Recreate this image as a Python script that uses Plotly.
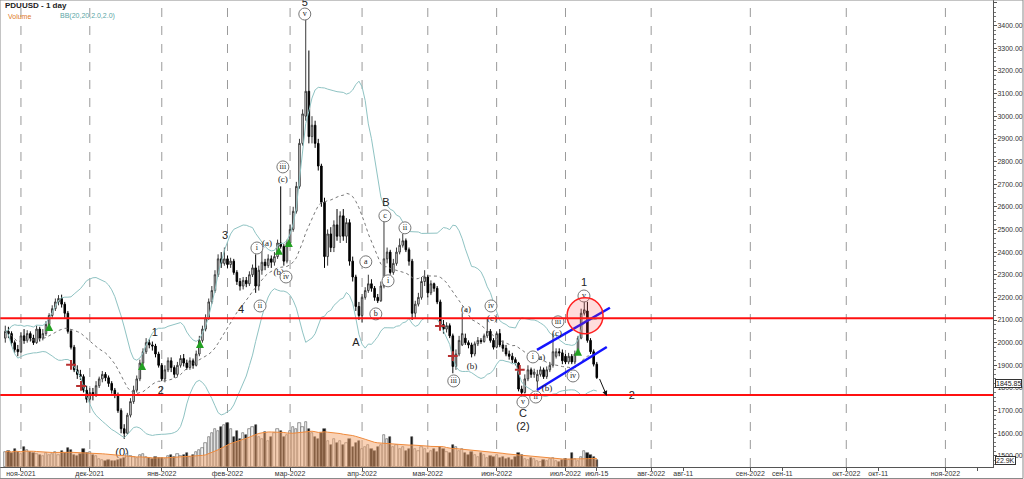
import pandas as pd
import plotly.graph_objects as go

# ---------------- data ----------------
dates = pd.bdate_range("2021-10-25", "2022-07-15")

opens = [2020,2050,2040,2000,1970,1960,2030,2010,2040,2020,
         2000,2060,2020,2040,2080,2120,2150,2180,2195,2170,
         2130,2050,1980,1880,1860,1850,1790,1750,1780,1770,
         1810,1840,1860,1845,1820,1790,1770,1700,1620,1600,
         1680,1740,1790,1840,1910,1960,2000,1990,1985,1950,
         1900,1840,1880,1920,1890,1860,1900,1930,1910,1890,
         1920,1900,1950,2010,2060,2110,2180,2230,2300,2370,
         2350,2370,2345,2360,2310,2270,2250,2275,2260,2300,
         2330,2250,2320,2355,2340,2370,2355,2380,2440,2425,
         2360,2440,2500,2580,2690,2880,3000,3110,2910,2960,
         2880,2780,2620,2380,2480,2420,2520,2470,2560,2470,
         2530,2360,2290,2160,2120,2200,2230,2260,2240,2200,
         2185,2250,2370,2400,2310,2350,2400,2430,2450,2410,
         2360,2130,2170,2200,2270,2290,2220,2260,2240,2180,
         2080,2060,2075,2030,1895,1950,1990,2020,2000,1990,
         1950,1995,2010,2005,2030,2050,2010,1980,2040,1990,
         1975,1950,1940,1925,1910,1795,1780,1840,1880,1860,
         1830,1860,1880,1850,1880,1900,1940,1960,1955,1940,
         1915,1940,1915,1960,2020,2130,2140,2010,1960,1905]
closes = [2050,2040,2000,1970,1960,2030,2010,2040,2020,2000,
          2060,2020,2040,2080,2120,2150,2180,2195,2170,2130,
          2050,1980,1880,1860,1850,1790,1750,1780,1770,1810,
          1840,1860,1845,1820,1790,1770,1700,1620,1600,1680,
          1740,1790,1840,1910,1960,2000,1990,1985,1950,1900,
          1840,1880,1920,1890,1860,1900,1930,1910,1890,1920,
          1900,1950,2010,2060,2110,2180,2230,2300,2370,2350,
          2370,2345,2360,2310,2270,2250,2275,2260,2300,2330,
          2250,2320,2355,2340,2370,2355,2380,2440,2425,2360,
          2440,2500,2580,2690,2880,3010,3110,2910,2960,2880,
          2780,2620,2380,2480,2420,2520,2470,2560,2470,2530,
          2360,2290,2160,2120,2200,2230,2260,2240,2200,2185,
          2250,2370,2400,2310,2350,2400,2430,2450,2410,2360,
          2130,2170,2200,2270,2290,2220,2260,2240,2180,2080,
          2060,2075,2030,1895,1950,2010,2040,2000,1990,1950,
          1995,2010,2005,2030,2050,2010,1980,2040,1990,1975,
          1950,1940,1925,1910,1795,1780,1840,1880,1860,1870,
          1860,1880,1850,1880,1900,1960,1960,1955,1920,1915,
          1940,1915,1950,2020,2130,2145,2010,1960,1905,1845.85]
highs = [2075,2070,2050,2010,1990,2045,2060,2055,2050,2035,
         2075,2070,2060,2095,2130,2165,2195,2210,2212,2180,
         2140,2060,1990,1900,1880,1860,1810,1800,1800,1830,
         1850,1875,1870,1855,1830,1800,1780,1710,1640,1690,
         1755,1810,1855,1925,1975,2020,2015,2005,1995,1960,
         1910,1900,1935,1935,1900,1915,1945,1950,1925,1935,
         1930,1965,2030,2075,2125,2195,2250,2320,2390,2400,
         2420,2385,2375,2370,2320,2285,2290,2290,2315,2345,
         2390,2340,2420,2370,2390,2385,2400,2455,2690,2435,
         2455,2520,2600,2710,2900,3030,3430,3290,3000,2980,
         2900,2790,2640,2500,2510,2540,2590,2580,2590,2550,
         2545,2380,2300,2180,2215,2245,2300,2280,2250,2215,
         2270,2550,2420,2410,2370,2420,2460,2480,2460,2420,
         2370,2185,2220,2290,2320,2300,2275,2265,2250,2190,
         2100,2090,2085,2040,1970,2030,2130,2040,2010,2000,
         2005,2025,2020,2040,2110,2060,2020,2050,2060,2010,
         1990,1965,1955,1935,1915,1810,1860,1900,1890,1885,
         1880,1895,1890,1895,1915,2040,1975,1975,1970,1950,
         1955,1950,1965,2030,2150,2190,2180,2020,1970,1915]
lows = [2000,2020,1985,1955,1940,1955,1995,2000,2005,1990,
        1995,2005,2010,2030,2070,2110,2140,2165,2155,2110,
        2040,1970,1870,1840,1835,1780,1735,1730,1745,1760,
        1800,1825,1830,1805,1775,1755,1690,1600,1575,1595,
        1670,1730,1780,1830,1900,1950,1975,1965,1935,1890,
        1830,1825,1870,1870,1845,1850,1890,1895,1880,1880,
        1885,1895,1940,2000,2050,2100,2170,2220,2290,2330,
        2340,2330,2330,2300,2255,2230,2235,2245,2250,2290,
        2220,2230,2300,2320,2330,2330,2340,2370,2415,2340,
        2350,2430,2490,2570,2680,2870,2980,2880,2880,2860,
        2760,2600,2330,2340,2400,2400,2450,2440,2450,2440,
        2340,2270,2140,2100,2090,2190,2220,2225,2185,2175,
        2180,2240,2350,2300,2300,2340,2390,2420,2400,2340,
        2100,2110,2160,2190,2250,2200,2210,2225,2170,2070,
        2040,2045,2020,1865,1880,1940,1985,1990,1975,1935,
        1940,1985,1995,2000,2020,2000,1970,1975,1980,1960,
        1940,1925,1910,1900,1785,1765,1775,1830,1845,1845,
        1790,1850,1840,1840,1870,1890,1930,1940,1905,1905,
        1905,1905,1905,1955,2015,2120,2000,1950,1895,1840]
volumes = [50,53,46,59,50,43,66,56,50,46,
           43,40,36,46,40,43,50,40,53,46,
           63,56,40,36,43,59,46,50,40,36,
           26,23,20,23,20,20,23,26,30,43,
           36,33,30,40,43,33,30,26,33,30,
           30,26,36,40,33,43,36,40,46,33,
           40,50,56,63,79,99,112,125,119,132,
           139,145,125,99,119,92,112,106,125,132,
           139,99,92,115,86,99,112,125,119,99,
           106,119,132,125,145,132,149,125,112,99,
           92,112,125,86,73,92,79,86,73,79,
           92,66,79,86,59,66,73,59,53,66,
           73,106,92,99,66,73,59,66,53,59,
           99,59,53,66,59,46,53,59,50,66,
           59,50,46,73,66,53,59,46,40,50,
           40,33,46,40,30,36,33,40,30,33,
           26,30,23,33,46,40,26,23,30,26,
           20,16,23,20,26,30,20,16,23,26,
           23,46,26,20,33,53,46,40,33,22.9]

resistance_level = 2108
support_level = 1769

tick_dates = ["2021-11-01","2021-12-01","2022-01-01","2022-02-01","2022-03-01",
              "2022-04-01","2022-05-01","2022-06-01","2022-07-01","2022-07-15",
              "2022-08-01","2022-08-11","2022-09-01","2022-09-11","2022-10-01",
              "2022-10-11","2022-11-01","2022-11-11"]
tick_texts = ["ноя-2021","дек-2021","янв-2022","фев-2022","мар-2022",
              "апр-2022","мая-2022","июн-2022","июл-2022","июл-15",
              "авг-2022","авг-11","сен-2022","сен-11","окт-2022",
              "окт-11","ноя-2022",""]
month_dates = ["2021-11-01","2021-12-01","2022-01-01","2022-02-01","2022-03-01",
               "2022-04-01","2022-05-01","2022-06-01","2022-07-01","2022-08-01",
               "2022-09-01","2022-10-01","2022-11-01"]

# wave labels: (bar position, price, text)
big_labels = [(95.7,3500,"5"),(70.2,2471,"3"),(75.3,2145,"4"),(47.8,2043,"1"),
              (49.7,1787,"2"),(37.3,1513,"(0)"),(112,1999,"A"),(121.6,2617,"B"),
              (165.4,1685,"C"),(165.4,1628,"(2)"),(184.9,2264,"1"),(200.2,1765,"2")]
paren_labels = [(88.7,2719,"(c)"),(83.6,2436,"(a)"),(87.4,2308,"(b)"),
                (147.2,2145,"(a)"),(149.1,1893,"(b)"),(155.5,2105,"(c)"),
                (171.4,1933,"a)"),(173.1,1796,"(b)"),(176.3,2039,"(c)")]
circled_labels = [(95.7,3451,"v"),(88.7,2776,"iii"),(80.4,2418,"i"),(89.7,2290,"iv"),
                  (81.4,2162,"ii"),(121.3,2560,"c"),(115.2,2357,"a"),(118.4,2127,"b"),
                  (122.3,2273,"i"),(127.7,2507,"ii"),(143.3,1831,"iii"),(155.2,2162,"iv"),
                  (165.4,1738,"v"),(168.6,1937,"i"),(169.5,1760,"ii"),(176.6,2092,"iii"),
                  (181.4,1853,"iv"),(184.9,2206,"v")]
buy_signals = [(14.0,2087),(43.7,1915),(62.2,2012),(87.4,2423),(90.6,2458),(183,1977)]
sell_signals = [(21.0,1902),(24.2,1809),(138.9,2074),(143.0,1941),(164.4,1880)]
channel_upper = [(169.9,1968),(193.2,2154)]
channel_lower = [(169.9,1791),(192.2,1981)]

# ---------------- derived ----------------
n = len(dates)
idx = list(range(n))
cs = pd.Series(closes)
mid = cs.rolling(20, min_periods=1).mean()
sd = cs.rolling(20, min_periods=1).std(ddof=0)
upper = mid + 2 * sd
lower = mid - 2 * sd
vol_ma = pd.Series(volumes).rolling(20, min_periods=1).mean()

FUTURE_BARS_PER_DAY = 1.022


def xpos(d):
    d = pd.Timestamp(d)
    if d <= dates[-1]:
        return int(dates.searchsorted(d))
    return (n - 1) + (d - dates[-1]).days * FUTURE_BARS_PER_DAY


tickvals = [xpos(d) for d in tick_dates]
grid_x = [xpos(d) for d in month_dates]

FONT = "Liberation Sans, Arial, sans-serif"
SERIF = "Liberation Serif, Times New Roman, serif"

fig = go.Figure()

# volume bars
vol_colors = ["#111111" if c < o else "#f4f4f4" for o, c in zip(opens, closes)]
fig.add_trace(go.Bar(x=idx, y=volumes, yaxis="y2", width=0.72,
                     marker=dict(color=vol_colors, line=dict(color="#555555", width=0.6)),
                     hoverinfo="skip"))
fig.add_trace(go.Scatter(x=idx, y=vol_ma, yaxis="y2", mode="lines",
                         line=dict(color="#ef8a3c", width=1),
                         fill="tozeroy", fillcolor="rgba(244,165,110,0.5)",
                         hoverinfo="skip"))

# candles
fig.add_trace(go.Candlestick(x=idx, open=opens, high=highs, low=lows, close=closes,
                             increasing=dict(line=dict(color="#3a3a3a", width=1), fillcolor="#ffffff"),
                             decreasing=dict(line=dict(color="#000000", width=1), fillcolor="#000000"),
                             whiskerwidth=0, hoverinfo="skip"))

# Bollinger bands
fig.add_trace(go.Scatter(x=idx, y=upper, mode="lines", line=dict(color="#8fc3c3", width=1), hoverinfo="skip"))
fig.add_trace(go.Scatter(x=idx, y=lower, mode="lines", line=dict(color="#8fc3c3", width=1), hoverinfo="skip"))
fig.add_trace(go.Scatter(x=idx, y=mid, mode="lines", line=dict(color="#777777", width=1, dash="dot"), hoverinfo="skip"))

# signals
fig.add_trace(go.Scatter(x=[p[0] for p in buy_signals], y=[p[1] for p in buy_signals], mode="markers",
                         marker=dict(symbol="arrow-up", size=8, color="#22a022"), hoverinfo="skip"))
fig.add_trace(go.Scatter(x=[p[0] for p in sell_signals], y=[p[1] for p in sell_signals], mode="markers",
                         marker=dict(symbol="cross-thin", size=7, line=dict(color="#b83030", width=2)),
                         hoverinfo="skip"))

# channel lines
for ch in (channel_upper, channel_lower):
    fig.add_trace(go.Scatter(x=[p[0] for p in ch], y=[p[1] for p in ch], mode="lines",
                             line=dict(color="#1414ff", width=2.5), hoverinfo="skip"))

# labels
fig.add_trace(go.Scatter(x=[l[0] for l in big_labels], y=[l[1] for l in big_labels], text=[l[2] for l in big_labels],
                         mode="text", textposition="middle center",
                         textfont=dict(family=FONT, size=11, color="#222222"), hoverinfo="skip"))
fig.add_trace(go.Scatter(x=[l[0] for l in paren_labels], y=[l[1] for l in paren_labels], text=[l[2] for l in paren_labels],
                         mode="text", textposition="middle center",
                         textfont=dict(family=SERIF, size=9, color="#222222"), hoverinfo="skip"))
fig.add_trace(go.Scatter(x=[l[0] for l in circled_labels], y=[l[1] for l in circled_labels], text=[l[2] for l in circled_labels],
                         mode="markers+text", textposition="middle center",
                         marker=dict(symbol="circle", size=12, color="white", line=dict(color="#777777", width=1)),
                         textfont=dict(family=SERIF, size=8, color="#222222"), hoverinfo="skip"))

shapes = []
for gx in grid_x:
    shapes.append(dict(type="line", xref="x", yref="paper", x0=gx, x1=gx, y0=0, y1=1,
                       line=dict(color="#9a9a9a", width=1, dash="dash"), layer="below"))
for lvl in (resistance_level, support_level):
    shapes.append(dict(type="line", xref="paper", yref="y", x0=0, x1=1, y0=lvl, y1=lvl,
                       line=dict(color="#ff1010", width=2)))
shapes.append(dict(type="circle", xref="x", yref="y", x0=179.5, x1=191.0, y0=2039, y1=2198,
                   fillcolor="rgba(255,60,60,0.18)", line=dict(color="#ff2020", width=1.5)))
shapes.append(dict(type="rect", xref="paper", yref="paper", x0=0, x1=1023/993, y0=-11.5/467, y1=1,
                   line=dict(color="#8a8a8a", width=1), fillcolor="rgba(0,0,0,0)"))

annotations = [
    dict(x=192.2, y=1765, ax=189.7, ay=1846, xref="x", yref="y", axref="x", ayref="y",
         showarrow=True, arrowhead=2, arrowsize=1, arrowwidth=1, arrowcolor="#111111", text=""),
    dict(x=3/993, y=1 - 6/467, xref="paper", yref="paper", xanchor="left", yanchor="middle",
         showarrow=False, text="<b>PDUUSD - 1 day</b>", font=dict(family=FONT, size=8, color="#222222")),
    dict(x=6/993, y=1 - 16/467, xref="paper", yref="paper", xanchor="left", yanchor="middle",
         showarrow=False, text="Volume", font=dict(family=FONT, size=7, color="#e07a28")),
    dict(x=58/993, y=1 - 16/467, xref="paper", yref="paper", xanchor="left", yanchor="middle",
         showarrow=False, text="BB(20,20,2.0,2.0)", font=dict(family=FONT, size=7, color="#5aa5a5")),
    dict(x=1, y=closes[-1], xref="paper", yref="y", xanchor="left", yanchor="middle", yshift=-6, xshift=2,
         showarrow=False, text=f"{closes[-1]:.2f}", bgcolor="white", bordercolor="#333333", borderwidth=1,
         borderpad=0, font=dict(family=FONT, size=7, color="#222222")),
    dict(x=1, y=volumes[-1], xref="paper", yref="y2", xanchor="left", yanchor="middle", xshift=2,
         showarrow=False, text=f"{volumes[-1]:.1f}K", bgcolor="white", bordercolor="#333333", borderwidth=1,
         borderpad=0, font=dict(family=FONT, size=7, color="#222222")),
]

fig.update_layout(
    width=1024, height=479,
    margin=dict(l=0, r=31, t=0, b=12, pad=0),
    paper_bgcolor="white", plot_bgcolor="white",
    showlegend=False,
    bargap=0,
    shapes=shapes, annotations=annotations,
    xaxis=dict(range=[-1.69, 315.6], tickmode="array", tickvals=tickvals, ticktext=tick_texts,
               showgrid=False, zeroline=False, showline=True, linecolor="#555555", linewidth=1,
               ticks="outside", ticklen=3, tickcolor="#555555", automargin=False,
               ticklabelstandoff=-3,
               tickfont=dict(family=FONT, size=7, color="#333333"),
               rangeslider=dict(visible=False), fixedrange=True),
    yaxis=dict(range=[1451, 3513], side="right", tickmode="array",
               tickvals=list(range(1500, 3501, 100)), tickformat=".2f",
               showgrid=False, zeroline=False, showline=True, linecolor="#555555", linewidth=1,
               ticks="outside", ticklen=3, tickcolor="#555555", automargin=False,
               ticklabelstandoff=-1,
               minor=dict(dtick=20, ticks="outside", ticklen=2, tickcolor="#777777", showgrid=False),
               tickfont=dict(family=FONT, size=7, color="#333333")),
    yaxis2=dict(range=[0, 1541], overlaying="y", side="right", visible=False, showgrid=False),
)

fig.write_html("out.html", config={"displayModeBar": False},
               post_script="document.body.style.margin='0';document.body.style.overflow='hidden';")
